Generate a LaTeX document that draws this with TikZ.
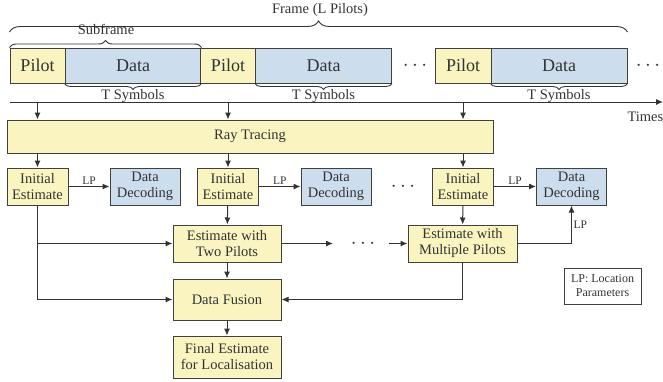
\documentclass[tikz,border=0pt]{standalone}
\usepackage{fontspec}
\setmainfont{Liberation Serif}
\usetikzlibrary{arrows.meta,decorations.pathreplacing}
\definecolor{pilotyellow}{HTML}{F9F4C0}
\definecolor{datablue}{HTML}{CCDDEE}
\tikzset{
  blk/.style={draw=black!75, line width=1pt, inner sep=1pt, align=center,
    font=\fontsize{14.5}{16}\selectfont},
  yblk/.style={blk, fill=pilotyellow},
  bblk/.style={blk, fill=datablue},
  rowblk/.style={minimum height=35pt, font=\fontsize{18}{20}\selectfont},
  lbl/.style={font=\fontsize{14.5}{16}\selectfont, inner sep=1pt},
  lpl/.style={font=\fontsize{11.5}{13}\selectfont, inner sep=1.5pt},
  dotsl/.style={font=\fontsize{20}{20}\selectfont, inner sep=0pt},
  brc/.style={decorate, line width=0.9pt, decoration={brace, amplitude=#1}},
}
\begin{document}
\begin{tikzpicture}[x=1pt,y=-1pt,>={Latex[length=7pt,width=6pt]},
    line width=1pt, color=black!80]
  \useasboundingbox (0,0) rectangle (663,381);
  % frame row
  \node[yblk, rowblk, minimum width=55pt] (p1) at (37.5,65.5) {Pilot};
  \node[bblk, rowblk, minimum width=136pt] (d1) at (133,65.5) {Data};
  \node[yblk, rowblk, minimum width=55pt] (p2) at (228,65.5) {Pilot};
  \node[bblk, rowblk, minimum width=136pt] (d2) at (323.5,65.5) {Data};
  \node[yblk, rowblk, minimum width=56pt] (p3) at (463,65.5) {Pilot};
  \node[bblk, rowblk, minimum width=136pt] (d3) at (559,65.5) {Data};
  \node[dotsl] (rdots1) at (415,65.5) {$\cdots$};
  \node[dotsl] (rdots2) at (648,65.5) {$\cdots$};
  % braces
  \draw[brc=11pt] (p1.north west |- 0,32) -- (d3.north east |- 0,32);
  \node[lbl] (frame) at (320,10) {Frame (L Pilots)};
  \draw[brc=7pt] (p1.north west) -- (d1.north east);
  \node[lbl] (subframe) at (106,29) {Subframe};
  \draw[brc=6pt] (d1.south east) -- (d1.south west);
  \draw[brc=6pt] (d2.south east) -- (d2.south west);
  \draw[brc=6pt] (d3.south east) -- (d3.south west);
  \node[lbl] (ts1) at (133,96) {T Symbols};
  \node[lbl] (ts2) at (323.5,96) {T Symbols};
  \node[lbl] (ts3) at (559,96) {T Symbols};
  % time axis
  \coordinate (axL) at (10,102);
  \coordinate (axR) at (663,102);
  \draw[->] (axL) -- (axR);
  \node[lbl, anchor=north west] (times) at (626,110) {Times};
  % processing
  \node[yblk, minimum width=486pt, minimum height=33pt] (ray) at (250,136.5) {Ray Tracing};
  \node[yblk, minimum width=61pt, minimum height=37pt] (init1) at (37.5,186.5) {Initial\\Estimate};
  \node[yblk, minimum width=61pt, minimum height=37pt] (init2) at (228,186.5) {Initial\\Estimate};
  \node[yblk, minimum width=61pt, minimum height=37pt] (init3) at (463,186.5) {Initial\\Estimate};
  \node[bblk, minimum width=70pt, minimum height=37pt] (dec1) at (145,186.5) {Data\\Decoding};
  \node[bblk, minimum width=70pt, minimum height=37pt] (dec2) at (336,186.5) {Data\\Decoding};
  \node[bblk, minimum width=70pt, minimum height=37pt] (dec3) at (571.5,186.5) {Data\\Decoding};
  \node[dotsl] (cdots1) at (403,186.5) {$\cdots$};
  \node[yblk, minimum width=108pt, minimum height=37pt] (two) at (227,243.5) {Estimate with\\Two Pilots};
  \node[yblk, minimum width=109pt, minimum height=37pt] (multi) at (462.5,243.5) {Estimate with\\Multiple Pilots};
  \node[dotsl] (cdots2) at (363,243.5) {$\cdots$};
  \coordinate (gapL) at (333,243.5);
  \coordinate (gapR) at (389,243.5);
  \node[yblk, minimum width=108pt, minimum height=41pt] (fusion) at (227,299.5) {Data Fusion};
  \node[yblk, minimum width=108pt, minimum height=42pt] (final) at (227,357) {Final Estimate\\for Localisation};
  \node[blk, font=\fontsize{12}{14}\selectfont, minimum width=77pt, minimum height=36pt] (legend) at (602.5,286) {LP: Location\\Parameters};
  % connectors
  \draw[->] (p1 |- axL) -- (p1 |- ray.north);
  \draw[->] (p2 |- axL) -- (p2 |- ray.north);
  \draw[->] (p3 |- axL) -- (p3 |- ray.north);
  \draw[->] (ray.south -| init1) -- (init1);
  \draw[->] (ray.south -| init2) -- (init2);
  \draw[->] (ray.south -| init3) -- (init3);
  \draw[->] (init1) -- node[lpl, above] {LP} (dec1);
  \draw[->] (init2) -- node[lpl, above] {LP} (dec2);
  \draw[->] (init3) -- node[lpl, above] {LP} (dec3);
  \draw[->] (init1.south) |- (fusion.west);
  \draw[->] (init1.south |- two.west) -- (two.west);
  \draw[->] (init2) -- (two);
  \draw[->] (two) -- (gapL);
  \draw[->] (gapR) -- (multi);
  \draw[->] (init3) -- (multi);
  \draw[->] (multi.east) -| node[lpl, pos=0.75, right] {LP} (dec3.south);
  \draw[->] (multi.south) |- (fusion.east);
  \draw[->] (two) -- (fusion);
  \draw[->] (fusion) -- (final);
\end{tikzpicture}
\end{document}
